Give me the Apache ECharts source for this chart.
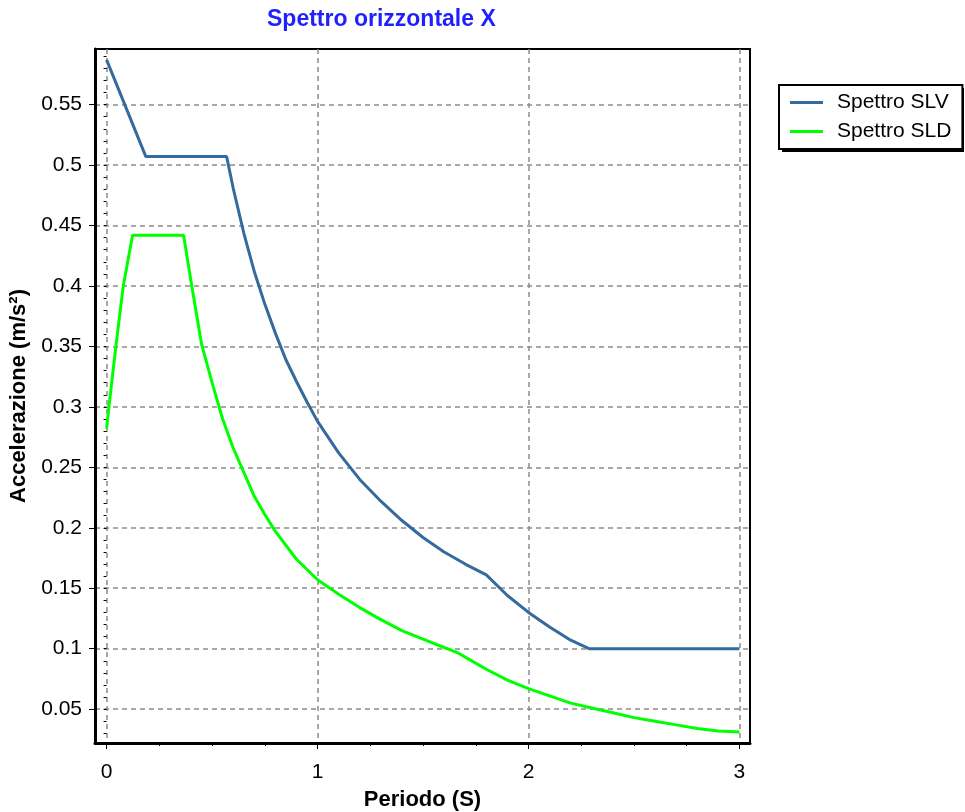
<!DOCTYPE html>
<html>
<head>
<meta charset="utf-8">
<script src="https://cdn.jsdelivr.net/npm/echarts@6/dist/echarts.min.js"></script>
<style>html,body{margin:0;padding:0;background:#fff;}#c{width:965px;height:812px;}</style>
</head>
<body>
<div id="c"></div>
<script>
// Periods (s) and accelerations (m/s²)
var slvT = [0, 0.1, 0.186, 0.569, 0.6, 0.65, 0.7, 0.75, 0.8, 0.85, 0.9, 0.95, 1.0, 1.1, 1.2, 1.3, 1.4, 1.5, 1.6, 1.7, 1.8, 1.9, 2.0, 2.1, 2.2, 2.287, 3.0];
var slvA = [0.587, 0.544, 0.507, 0.507, 0.481, 0.444, 0.412, 0.385, 0.361, 0.339, 0.321, 0.304, 0.288, 0.262, 0.240, 0.222, 0.206, 0.192, 0.180, 0.170, 0.161, 0.144, 0.130, 0.118, 0.107, 0.100, 0.100];
var sldT = [0, 0.005, 0.011, 0.044, 0.079, 0.123, 0.365, 0.4, 0.45, 0.5, 0.55, 0.6, 0.65, 0.7, 0.75, 0.8, 0.9, 1.0, 1.1, 1.2, 1.3, 1.4, 1.5, 1.6, 1.66, 1.7, 1.8, 1.9, 2.0, 2.1, 2.2, 2.3, 2.4, 2.5, 2.6, 2.7, 2.8, 2.9, 3.0];
var sldA = [0.282, 0.283, 0.300, 0.350, 0.400, 0.442, 0.442, 0.404, 0.352, 0.320, 0.290, 0.266, 0.246, 0.226, 0.211, 0.197, 0.174, 0.157, 0.145, 0.134, 0.124, 0.115, 0.108, 0.101, 0.097, 0.093, 0.083, 0.074, 0.067, 0.061, 0.055, 0.051, 0.047, 0.043, 0.040, 0.037, 0.034, 0.032, 0.031];

var seriesNames = ['Spettro SLV', 'Spettro SLD'];
var xMajorTicks = [0, 1, 2, 3];
var xMinorTicks = [0, 0.25, 0.5, 0.75, 1, 1.25, 1.5, 1.75, 2, 2.25, 2.5, 2.75, 3];
var yMajorTicks = [0.05, 0.1, 0.15, 0.2, 0.25, 0.3, 0.35, 0.4, 0.45, 0.5, 0.55];
var yMinorTicks = [0.03, 0.04, 0.05, 0.06, 0.07, 0.08, 0.09, 0.1, 0.11, 0.12, 0.13, 0.14, 0.15, 0.16, 0.17, 0.18, 0.19, 0.2, 0.21, 0.22, 0.23, 0.24, 0.25, 0.26, 0.27, 0.28, 0.29, 0.3, 0.31, 0.32, 0.33, 0.34, 0.35, 0.36, 0.37, 0.38, 0.39, 0.4, 0.41, 0.42, 0.43, 0.44, 0.45, 0.46, 0.47, 0.48, 0.49, 0.5, 0.51, 0.52, 0.53, 0.54, 0.55, 0.56, 0.57, 0.58, 0.59];

function pairs(xs, ys) { return xs.map(function (x, i) { return [x, ys[i]]; }); }

var FONT = '"Liberation Sans", Arial, sans-serif';
var X_MIN = -0.055, X_MAX = 3.05, Y_MIN = 0.022, Y_MAX = 0.596;
var gridLine = { show: true, lineStyle: { type: [5, 4], color: '#8c8c8c', width: 1.5 } };

var chart = echarts.init(document.getElementById('c'), null, { renderer: 'canvas' });
chart.setOption({
  animation: false,
  backgroundColor: '#fff',
  title: {
    text: 'Spettro orizzontale X',
    left: 267, top: 8, padding: 0,
    textStyle: { color: '#1f1fff', fontSize: 23, fontWeight: 'bold', fontFamily: FONT }
  },
  graphic: [{
    // drop shadow behind the legend box
    type: 'rect', z: 1, silent: true,
    shape: { x: 782, y: 88, width: 182, height: 64 },
    style: { fill: '#000' }
  }],
  legend: {
    data: seriesNames,
    orient: 'vertical',
    left: 779, top: 85, z: 10,
    padding: [7, 11, 7, 11],
    itemWidth: 33, itemHeight: 3, itemGap: 8,
    icon: 'rect',
    backgroundColor: '#fff',
    borderColor: '#000', borderWidth: 2,
    textStyle: { fontSize: 21, color: '#000', fontFamily: FONT, lineHeight: 20, padding: [0, 0, 0, 9] }
  },
  grid: { left: 95, top: 49, right: 215, bottom: 69, show: true, borderColor: '#000', borderWidth: 2, outerBoundsMode: 'none', containLabel: false },
  xAxis: [{
    type: 'value', min: X_MIN, max: X_MAX,
    name: 'Periodo (S)', nameLocation: 'middle', nameGap: 46,
    nameTextStyle: { fontSize: 22, fontWeight: 'bold', color: '#000', fontFamily: FONT },
    axisLine: { show: true, onZero: false, lineStyle: { color: '#000', width: 3 } },
    axisTick: { show: true, customValues: xMajorTicks, length: 6, lineStyle: { color: '#000', width: 1 } },
    axisLabel: { customValues: xMajorTicks, margin: 19, fontSize: 21, color: '#000', fontFamily: FONT },
    splitLine: gridLine
  }, {
    type: 'value', min: X_MIN, max: X_MAX, position: 'bottom',
    axisLine: { show: false },
    axisTick: { show: true, customValues: xMinorTicks, length: 3, lineStyle: { color: '#000', width: 1 } },
    axisLabel: { show: false },
    splitLine: { show: false }
  }],
  yAxis: [{
    type: 'value', min: Y_MIN, max: Y_MAX,
    name: 'Accelerazione (m/s²)', nameLocation: 'middle', nameGap: 61,
    nameTextStyle: { fontSize: 22, fontWeight: 'bold', color: '#000', fontFamily: FONT },
    axisLine: { show: true, onZero: false, lineStyle: { color: '#000', width: 3 } },
    axisTick: { show: true, customValues: yMajorTicks, length: 6, lineStyle: { color: '#000', width: 1 } },
    axisLabel: { customValues: yMajorTicks, margin: 13, fontSize: 21, color: '#000', fontFamily: FONT },
    splitLine: gridLine
  }, {
    type: 'value', min: Y_MIN, max: Y_MAX, position: 'left',
    axisLine: { show: false },
    axisTick: { show: true, customValues: yMinorTicks, length: 3, lineStyle: { color: '#000', width: 1 } },
    axisLabel: { show: false },
    splitLine: { show: false }
  }],
  series: [{
    name: seriesNames[0], type: 'line', xAxisIndex: 0, yAxisIndex: 0,
    data: pairs(slvT, slvA), showSymbol: false, symbol: 'none',
    color: '#356b9c', lineStyle: { color: '#356b9c', width: 3 }
  }, {
    name: seriesNames[1], type: 'line', xAxisIndex: 0, yAxisIndex: 0,
    data: pairs(sldT, sldA), showSymbol: false, symbol: 'none',
    color: '#00ff00', lineStyle: { color: '#00ff00', width: 3 }
  }]
});
</script>
</body>
</html>
